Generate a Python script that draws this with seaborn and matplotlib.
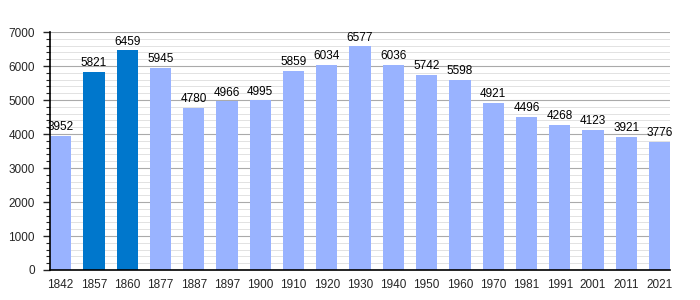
import matplotlib
matplotlib.use("Agg")
import matplotlib.pyplot as plt
import seaborn as sns
import pandas as pd
from matplotlib.ticker import MultipleLocator

years = ["1842", "1857", "1860", "1877", "1887", "1897", "1900", "1910", "1920", "1930",
         "1940", "1950", "1960", "1970", "1981", "1991", "2001", "2011", "2021"]
population = [3952, 5821, 6459, 5945, 4780, 4966, 4995, 5859, 6034, 6577,
              6036, 5742, 5598, 4921, 4496, 4268, 4123, 3921, 3776]
highlight = ["1857", "1860"]

df = pd.DataFrame({"year": years, "pop": population})
light = "#99b3ff"
dark = "#0077cc"
palette = {y: (dark if y in highlight else light) for y in years}

sns.set_style("white")
plt.rcParams['font.family'] = ['Liberation Sans', 'DejaVu Sans']

fig = plt.figure(figsize=(7, 3), dpi=100)
ax = fig.add_axes([0.0714, 0.1, 0.886, 0.793])

sns.barplot(data=df, x="year", y="pop", hue="year", palette=palette, legend=False,
            width=0.64, ax=ax, saturation=1, linewidth=0, edgecolor="none")

ax.set_ylim(0, 7000)
ax.set_xlim(-0.32, len(years) - 0.68)
ax.yaxis.set_major_locator(MultipleLocator(1000))
ax.yaxis.set_minor_locator(MultipleLocator(200))
ax.grid(which="major", axis="y", color="#aaaaaa", linewidth=0.8)
ax.grid(which="minor", axis="y", color="#dddddd", linewidth=0.6)
ax.grid(which="both", axis="x", visible=False)
ax.set_axisbelow(True)

for s in ["top", "right"]:
    ax.spines[s].set_visible(False)
for s in ["left", "bottom"]:
    ax.spines[s].set_color("black")
    ax.spines[s].set_linewidth(1.2)
    ax.spines[s].set_zorder(5)

ax.tick_params(axis="y", which="major", left=True, length=5, width=1, labelsize=8.5, pad=6)
ax.tick_params(axis="y", which="minor", left=True, length=3, width=0.8)
ax.tick_params(axis="x", bottom=False, labelsize=8.5, pad=3)
ax.set_xlabel("")
ax.set_ylabel("")

for i, v in enumerate(population):
    ax.text(i, v + 80, str(v), ha="center", va="bottom", fontsize=8.5, color="black")

fig.savefig("out.png", dpi=100)
